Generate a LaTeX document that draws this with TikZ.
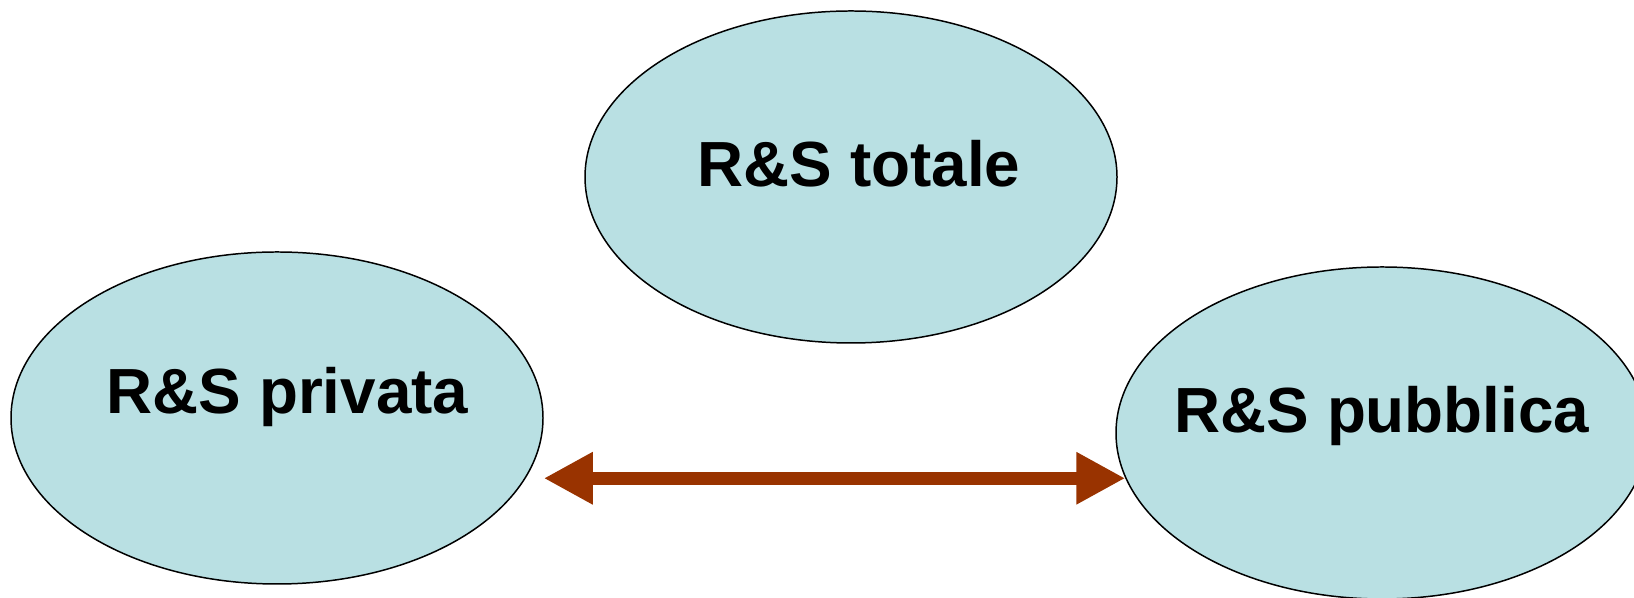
\documentclass[tikz,border=0pt]{standalone}
\usepackage{fontspec}
\setmainfont{Liberation Sans}
\usetikzlibrary{shapes.geometric,arrows.meta}
\definecolor{bolla}{HTML}{B9E0E3}
\definecolor{freccia}{HTML}{993300}
\begin{document}
\begin{tikzpicture}
		[bolla/.style={ellipse,draw=black,line width=0.85pt,fill=bolla,
			minimum width=10.64cm,minimum height=6.64cm,
			inner xsep=-0.6cm,inner ysep=0pt,
			font=\fontsize{36.3}{40}\selectfont\bfseries,
			text height=0.5cm,text depth=0.5cm},
		legame/.style={freccia,line width=0.25cm,
			{Triangle[length=0.98cm,width=0.98cm]}-{Triangle[length=0.98cm,width=0.98cm]}}]
		\useasboundingbox (0,0) rectangle (32.68,11.96);
		\node[bolla,text height=0.42cm,text depth=0.58cm] (priv) at (5.54,3.60) {\hspace*{0.42cm}R\&S privata};
		\node[bolla,text height=0.7cm,text depth=0.3cm] (tot) at (17.02,8.42) {\hspace*{0.32cm}R\&S totale};
		\node[bolla] (pubb) at (27.64,3.30) {R\&S pubblica};
		\draw[legame] (priv.east |- pubb.190) -- (pubb.190);
	\end{tikzpicture}
\end{document}
